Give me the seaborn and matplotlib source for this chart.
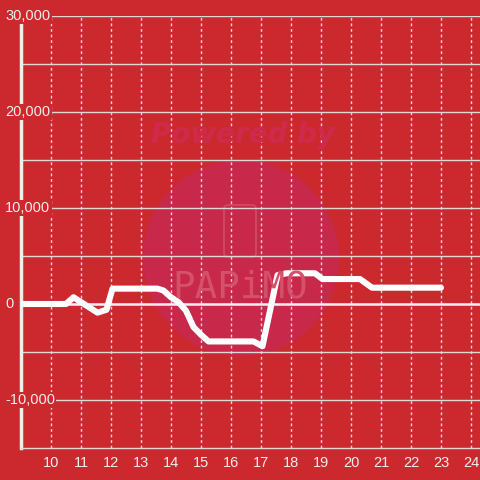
import numpy as np
import pandas as pd
import matplotlib
matplotlib.use("Agg")
import matplotlib.pyplot as plt
import matplotlib.transforms as mtransforms
import seaborn as sns
from matplotlib.patches import Circle, FancyBboxPatch

# ==================================
# DATA
# ==================================

hours = [9.0, 10.5, 10.75, 11.3, 11.55, 11.85, 12.05, 13.55, 13.75, 14.0,
         14.25, 14.5, 14.75, 15.0, 15.25, 16.75, 17.05, 17.55, 17.85, 18.8,
         19.05, 20.3, 20.7, 23.0]
balance = [0, 0, 700, -400, -900, -600, 1600, 1600, 1400, 700,
           200, -700, -2400, -3200, -3900, -3900, -4400, 3000, 3200, 3200,
           2600, 2600, 1700, 1700]

x_ticks = list(range(10, 25))
y_ticks = [-10000, 0, 10000, 20000, 30000]
y_grid = list(range(-10000, 30001, 5000))

RED = "#CC292E"
GRID = "#DADADA"
TEXT = "#EEEEEE"

df = pd.DataFrame({"hour": hours, "balance": balance})

# ==================================
# FIGURE
# ==================================

sns.set_style("white")
plt.rcParams["font.family"] = ["Liberation Sans", "DejaVu Sans"]

fig = plt.figure(figsize=(4.8, 4.8), dpi=100, facecolor=RED)
ax = fig.add_axes([21 / 480, 32 / 480, 459 / 480, 432 / 480])
ax.set_facecolor(RED)

# watermark
ax.add_patch(Circle((2.41, 2.22), 0.98, transform=fig.dpi_scale_trans,
                    facecolor="#C8284A", edgecolor="none", zorder=0.1,
                    clip_on=False))
ax.add_patch(FancyBboxPatch((2.24, 4.80 - 2.57), 0.32, 0.52,
                            boxstyle="round,pad=0,rounding_size=0.04",
                            transform=fig.dpi_scale_trans, facecolor="none",
                            edgecolor="#D24A5E", lw=1.3, zorder=0.15,
                            clip_on=False))
fig.text(243 / 480, 1 - 143 / 480, "Powered by", ha="center", va="baseline",
         fontsize=20, fontweight="bold", style="italic", color="#CF2A4C",
         family=["DejaVu Sans"], zorder=0.2)
fig.text(240 / 480, 1 - 297 / 480, "PAPiMO", ha="center", va="baseline",
         fontsize=27, color="#D5506A",
         family=["DejaVu Sans Mono"], zorder=0.2)

# grid
for v in y_grid:
    ax.axhline(v, color=GRID, lw=1.0, zorder=0.5)
ax.axhline(0, color=TEXT, lw=1.8, zorder=0.6)
for h in x_ticks:
    ax.axvline(h, color=GRID, lw=1.0, ls=(0, (2, 2)), zorder=0.5)

sns.lineplot(data=df, x="hour", y="balance", ax=ax, color="white",
             linewidth=4.4, zorder=3)

ax.set_xlim(9, 24.3)
ax.set_ylim(-15000, 30000)
ax.set_xticks(x_ticks)
ax.set_xticklabels([str(h) for h in x_ticks])
ax.set_yticks(y_ticks)
ax.set_yticklabels([])
ax.set_xlabel("")
ax.set_ylabel("")

ax.tick_params(axis="x", length=0, pad=5.5, labelsize=10.5, labelcolor=TEXT)
ax.tick_params(axis="y", length=0)

# y labels sit over the axis line with a small red backing box
lab_trans = mtransforms.blended_transform_factory(fig.transFigure, ax.transData)
for v in y_ticks:
    ax.text(5 / 480, v, f"{v:,}", transform=lab_trans, ha="left", va="center",
            fontsize=10.5, color=TEXT, zorder=4, clip_on=False,
            bbox=dict(facecolor=RED, edgecolor="none", pad=1.0))

for side in ["top", "right"]:
    ax.spines[side].set_visible(False)
ax.spines["left"].set_color(TEXT)
ax.spines["left"].set_linewidth(2.5)
ax.spines["left"].set_zorder(1)
ax.spines["bottom"].set_color(GRID)
ax.spines["bottom"].set_linewidth(1.0)

fig.savefig("out.png", dpi=100, facecolor=RED)
